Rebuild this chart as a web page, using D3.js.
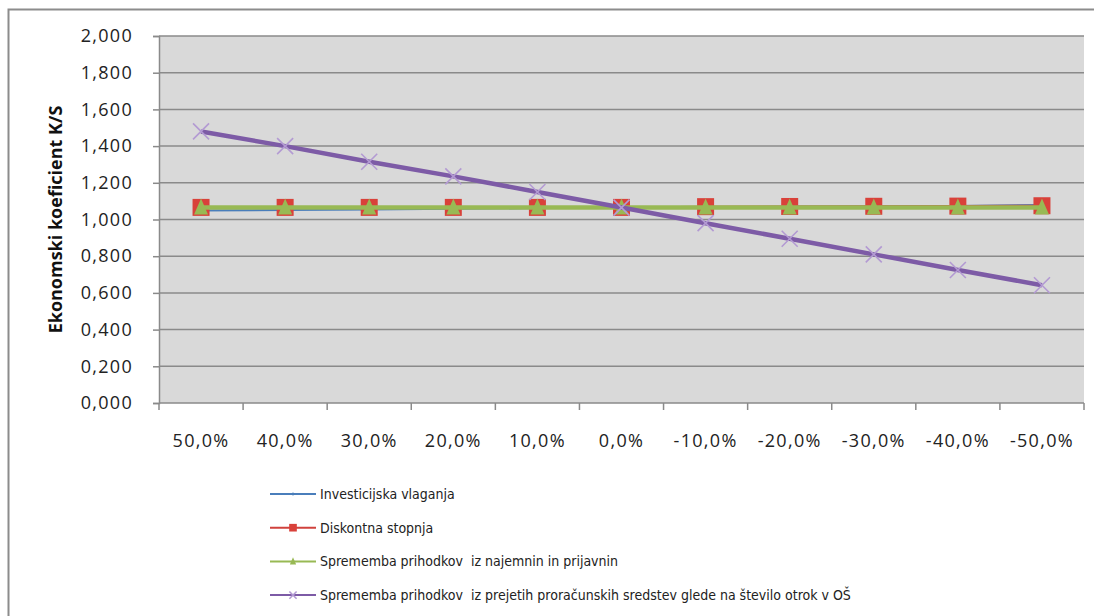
<!DOCTYPE html>
<html>
<head>
<meta charset="utf-8">
<script src="https://cdn.jsdelivr.net/npm/d3@7"></script>
<style>
  html, body { margin: 0; padding: 0; background: #fff; }
  svg { display: block; }
</style>
</head>
<body>
<svg id="chart" width="1094" height="616"></svg>
<script>
// Category labels (change of the parameter)
const categories = ["50,0%", "40,0%", "30,0%", "20,0%", "10,0%", "0,0%", "-10,0%", "-20,0%", "-30,0%", "-40,0%", "-50,0%"];

// Economic coefficient K/S per scenario
const investicijska = [1.049, 1.052, 1.055, 1.058, 1.062, 1.065, 1.067, 1.069, 1.071, 1.073, 1.079];
const diskontna     = [1.066, 1.066, 1.066, 1.066, 1.066, 1.066, 1.070, 1.071, 1.072, 1.073, 1.075];
const najemnine     = [1.065, 1.065, 1.065, 1.065, 1.065, 1.065, 1.065, 1.065, 1.065, 1.065, 1.065];
const proracun      = [1.480, 1.400, 1.315, 1.235, 1.150, 1.065, 0.980, 0.895, 0.810, 0.725, 0.642];

const yTicks = [0, 0.2, 0.4, 0.6, 0.8, 1.0, 1.2, 1.4, 1.6, 1.8, 2.0];
const seriesNames = [
  "Investicijska vlaganja",
  "Diskontna stopnja",
  "Sprememba prihodkov  iz najemnin in prijavnin",
  "Sprememba prihodkov  iz prejetih proračunskih sredstev glede na število otrok v OŠ"
];

const series = [
  { name: seriesNames[0], values: investicijska, color: "#4a7ebb", width: 2, marker: "diamond", mcolor: "#4a7ebb" },
  { name: seriesNames[1], values: diskontna, color: "#d0423d", width: 2, marker: "square", mcolor: "#d9413a" },
  { name: seriesNames[2], values: najemnine, color: "#98b954", width: 4.5, marker: "triangle", mcolor: "#98b954" },
  { name: seriesNames[3], values: proracun, color: "#7d5ba6", width: 4.5, marker: "cross", mcolor: "#b39ad3" }
];

const svg = d3.select("#chart");
const labelFont = "'Open Sans', 'Noto Sans', sans-serif";
const legendFont = "'Liberation Sans Narrow', 'DejaVu Sans Condensed', sans-serif";

// outer frame
svg.append("path")
  .attr("d", "M8.5,616 L8.5,9.5 L1094,9.5")
  .attr("fill", "none").attr("stroke", "#8c8c8c").attr("stroke-width", 2);

const plot = { left: 159, top: 36, right: 1084, bottom: 403 };

const x = d3.scaleBand().domain(categories).range([plot.left, plot.right]);
const y = d3.scaleLinear().domain([0, 2]).range([plot.bottom, plot.top]);

// plot background
svg.append("rect")
  .attr("x", plot.left).attr("y", plot.top)
  .attr("width", plot.right - plot.left).attr("height", plot.bottom - plot.top)
  .attr("fill", "#d9d9d9");

// horizontal gridlines
svg.append("g").selectAll("line").data(yTicks.slice(1)).join("line")
  .attr("x1", plot.left).attr("x2", plot.right)
  .attr("y1", d => y(d)).attr("y2", d => y(d))
  .attr("stroke", "#8a8a8a").attr("stroke-width", 1.5);

// y axis
const yAxis = d3.axisLeft(y).tickValues(yTicks).tickSize(6).tickPadding(20)
  .tickFormat(d => d3.format(".3f")(d).replace(".", ","));
const gy = svg.append("g").attr("transform", `translate(${plot.left},0)`).call(yAxis);
gy.select(".domain").attr("stroke", "#8a8a8a").attr("stroke-width", 1.5);
gy.selectAll(".tick line").attr("stroke", "#8a8a8a").attr("stroke-width", 1.5);
gy.selectAll(".tick text").attr("font-family", labelFont).attr("font-size", 18)
  .attr("letter-spacing", 1.3).attr("fill", "#222");

// x axis with ticks between categories
const gx = svg.append("g").attr("transform", `translate(0,${plot.bottom})`);
gx.append("line").attr("x1", plot.left).attr("x2", plot.right).attr("y1", 0).attr("y2", 0)
  .attr("stroke", "#8a8a8a").attr("stroke-width", 1.5);
const bounds = categories.map(c => x(c)).concat([plot.right]);
gx.selectAll("line.tk").data(bounds).join("line").attr("class", "tk")
  .attr("x1", d => d).attr("x2", d => d).attr("y1", 0).attr("y2", 7)
  .attr("stroke", "#8a8a8a").attr("stroke-width", 1.5);
gx.selectAll("text").data(categories).join("text")
  .attr("x", d => x(d) + x.bandwidth() / 2).attr("y", 44)
  .attr("text-anchor", "middle")
  .attr("font-family", labelFont).attr("font-size", 18).attr("letter-spacing", 1.3).attr("fill", "#222")
  .text(d => d);

// y axis title
svg.append("text")
  .attr("transform", `translate(62,${(plot.top + plot.bottom) / 2}) rotate(-90)`)
  .attr("text-anchor", "middle")
  .attr("font-family", labelFont).attr("font-size", 18).attr("font-weight", "bold").attr("fill", "#111")
  .text("Ekonomski koeficient K/S");

// markers
function drawMarker(g, type, cx, cy, color, scale) {
  const s = scale;
  if (type === "square") {
    g.append("rect").attr("x", cx - 8.5 * s).attr("y", cy - 8.5 * s)
      .attr("width", 17 * s).attr("height", 17 * s).attr("fill", color);
  } else if (type === "triangle") {
    g.append("path")
      .attr("d", `M${cx},${cy - 9 * s} L${cx + 7 * s},${cy + 7 * s} L${cx - 7 * s},${cy + 7 * s} Z`)
      .attr("fill", color);
  } else if (type === "diamond") {
    g.append("path")
      .attr("d", `M${cx},${cy - 4 * s} L${cx + 4 * s},${cy} L${cx},${cy + 4 * s} L${cx - 4 * s},${cy} Z`)
      .attr("fill", color);
  } else if (type === "cross") {
    g.append("path")
      .attr("d", `M${cx - 8 * s},${cy - 8 * s} L${cx + 8 * s},${cy + 8 * s} M${cx - 8 * s},${cy + 8 * s} L${cx + 8 * s},${cy - 8 * s}`)
      .attr("stroke", color).attr("stroke-width", 1.6).attr("fill", "none");
  }
}

const line = d3.line()
  .x((d, i) => x(categories[i]) + x.bandwidth() / 2)
  .y(d => y(d));

const gSeries = svg.append("g");
series.forEach(s => {
  const g = gSeries.append("g");
  g.append("path").datum(s.values)
    .attr("d", line).attr("fill", "none")
    .attr("stroke", s.color).attr("stroke-width", s.width).attr("stroke-linejoin", "round");
  s.values.forEach((v, i) => {
    drawMarker(g, s.marker, x(categories[i]) + x.bandwidth() / 2, y(v), s.mcolor, 1);
  });
});

// legend
const legend = svg.append("g");
series.forEach((s, i) => {
  const ly = 494 + i * 33.7;
  legend.append("line").attr("x1", 270).attr("x2", 316).attr("y1", ly).attr("y2", ly)
    .attr("stroke", s.color).attr("stroke-width", 2);
  const lg = legend.append("g");
  drawMarker(lg, s.marker, 293, ly, s.mcolor, 0.45);
  legend.append("text").attr("x", 320).attr("y", ly + 5)
    .attr("font-family", legendFont).attr("font-size", 14).attr("fill", "#222")
    .style("white-space", "pre")
    .text(s.name);
});
</script>
</body>
</html>
